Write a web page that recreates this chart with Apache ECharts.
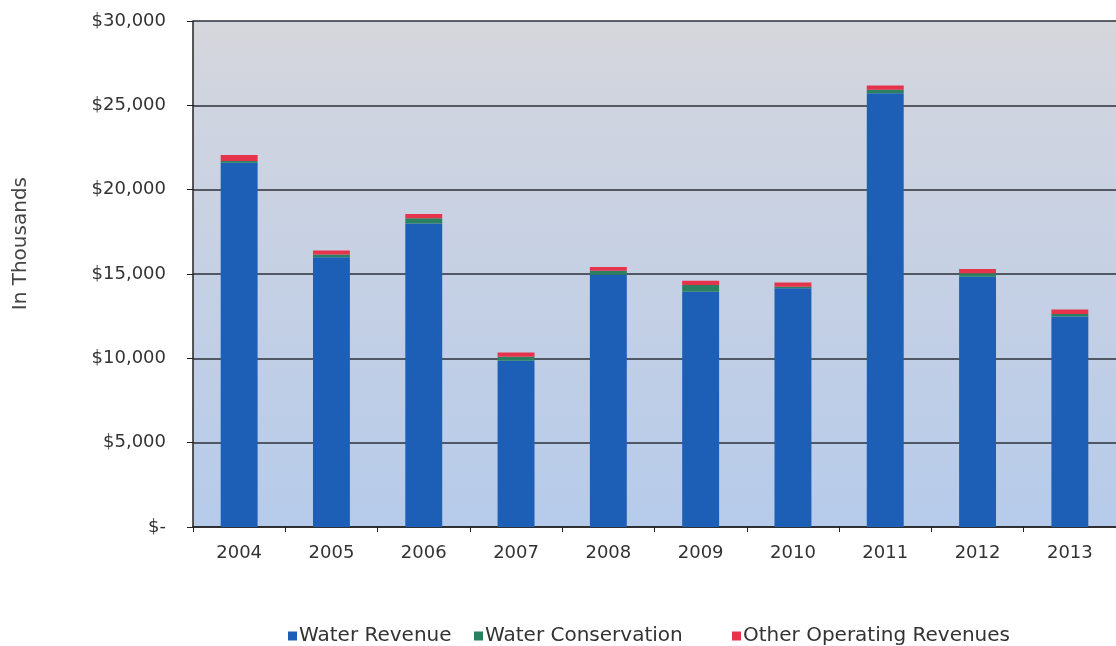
<!DOCTYPE html>
<html><head><meta charset="utf-8">
<script src="https://cdn.jsdelivr.net/npm/echarts@6/dist/echarts.min.js"></script>
<style>html,body{margin:0;padding:0;background:#fff}#c{width:1116px;height:646px}</style>
</head><body><div id="c"></div>
<script>
const years = ['2004','2005','2006','2007','2008','2009','2010','2011','2012','2013'];
const waterRevenue = [21600, 16000, 18000, 9850, 14950, 13950, 14150, 25720, 14840, 12480];
const waterConservation = [100, 150, 300, 250, 250, 400, 100, 200, 200, 150];
const otherOperating = [350, 250, 250, 250, 220, 250, 240, 260, 260, 270];
const yTicks = [0, 5000, 10000, 15000, 20000, 25000, 30000];
const seriesNames = ['Water Revenue','Water Conservation','Other Operating Revenues'];

const fmt = v => v === 0 ? '$-' : '$' + v.toLocaleString('en-US');
const chart = echarts.init(document.getElementById('c'), null, {renderer:'canvas'});
const font = 'DejaVu Sans, Verdana, sans-serif';
const legendText = {fontFamily:font, fontSize:20, color:'#333', padding:[0,0,0,-3]};
const legendBase = {top:621, icon:'rect', itemWidth:9, itemHeight:9, textStyle:legendText};
chart.setOption({
  animation:false,
  grid:{left:193, top:21, width:924, bottom:119, show:true, borderWidth:0,
    backgroundColor:new echarts.graphic.LinearGradient(0,0,0,1,[
      {offset:0,color:'#d6d7dc'},{offset:0.18,color:'#cfd4e0'},{offset:1,color:'#b6cbea'}])},
  legend:[
    Object.assign({left:283, data:[seriesNames[0]]}, legendBase),
    Object.assign({left:469, data:[seriesNames[1]]}, legendBase),
    Object.assign({left:727, data:[seriesNames[2]]}, legendBase)
  ],
  graphic:[{type:'text', left:11, top:177, rotation:Math.PI/2,
    style:{text:'In Thousands', font:'20px DejaVu Sans', fill:'#444'}}],
  xAxis:{type:'category', data:years,
    axisLine:{lineStyle:{color:'#222', width:1.5}},
    axisTick:{show:true, alignWithLabel:false, length:5, lineStyle:{color:'#222'}},
    axisLabel:{fontFamily:font, fontSize:18, color:'#333', margin:17}},
  yAxis:{type:'value', min:0, max:30000, interval:5000,
    axisLine:{show:true, lineStyle:{color:'#222', width:1.5}},
    axisTick:{show:true, length:6, lineStyle:{color:'#222'}},
    axisLabel:{fontFamily:font, fontSize:18, color:'#333', margin:27,
      formatter:v => yTicks.includes(v) ? fmt(v) : ''},
    splitLine:{show:true, lineStyle:{color:'#2b2f3a', width:1.5}}},
  series:[
    {name:seriesNames[0], type:'bar', stack:'t', data:waterRevenue, barWidth:'40%', itemStyle:{color:'#1d5fb6'}},
    {name:seriesNames[1], type:'bar', stack:'t', data:waterConservation, itemStyle:{color:'#2a8060'}},
    {name:seriesNames[2], type:'bar', stack:'t', data:otherOperating, itemStyle:{color:'#e5334c'}}
  ]
});
</script></body></html>
